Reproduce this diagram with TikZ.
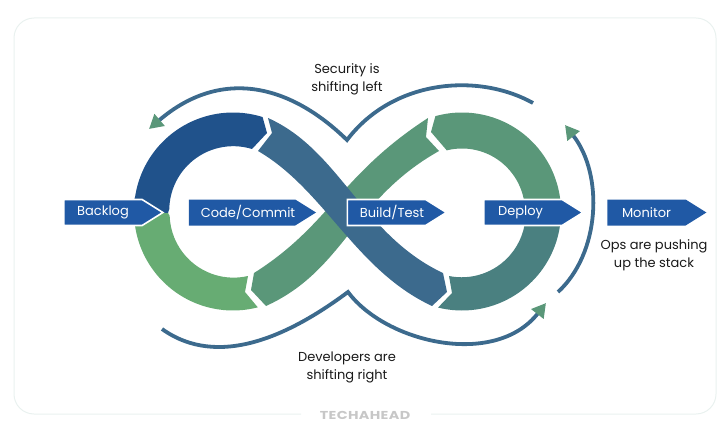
\documentclass[tikz,border=0pt]{standalone}
\usepackage{fontspec}
\setmainfont{Poppins}
\usetikzlibrary{shapes.symbols,arrows.meta}
\definecolor{boxblue}{HTML}{2059A5}
\definecolor{darkblue}{HTML}{20528B}
\definecolor{bandblue}{HTML}{3C6A8D}
\definecolor{bandgreen}{HTML}{5A9779}
\definecolor{lightgreen}{HTML}{67AC73}
\definecolor{teal}{HTML}{4A8080}
\definecolor{cardline}{HTML}{E9F1EF}
\begin{document}
\begin{tikzpicture}[x=1pt,y=-1pt,node distance=130pt,
  flag/.style={signal, signal to=east, signal pointer angle=64, fill=boxblue, text=white, inner sep=0pt, minimum height=26pt, minimum width=99pt, font=\fontsize{13}{15}\selectfont},
  rim/.style={draw=white, line width=1.6pt},
  flow/.style={draw=bandblue, line width=3.8pt, -{Triangle[color=bandgreen,length=14pt,width=15pt]}},
  note/.style={font=\fontsize{13}{18}\selectfont, align=center, text=black!90}]
\useasboundingbox (0,0) rectangle (728,433);
\draw[cardline, line width=1pt, rounded corners=20pt] (301,414) -- (14,414) -- (14,18) -- (716,18) -- (716,414) -- (431,414);
\node (logo)[text=black!22, font=\fontsize{11.5}{13}\selectfont\bfseries\addfontfeature{FakeStretch=1.25,LetterSpace=3}] at (365,415) {TECHAHEAD};
% left loop
\fill[darkblue] (233,211.5) ++(188.5:99) arc[start angle=188.5, end angle=287.4, radius=99] -- (267,133) -- (252,149) arc[start angle=287, end angle=181, radius=64] -- (168,213) -- (130,213) -- cycle;
\fill[lightgreen] (233,211.5) ++(172:99) arc[start angle=172, end angle=75.5, radius=99] -- (245,292) -- (248,276) arc[start angle=77, end angle=178, radius=64] -- (168,213) -- (130,213) -- cycle;
% right loop
\fill[bandgreen] (462,211.5) ++(254.4:99) arc[start angle=254.4, end angle=360, radius=99] -- (525,211.5) arc[start angle=360, end angle=256, radius=63] -- (431,132) -- cycle;
\fill[teal] (462,211.5) ++(0:99) arc[start angle=0, end angle=104, radius=99] -- (452,293) -- (449,276) arc[start angle=101.4, end angle=0, radius=64] -- cycle;
% crossing bands
\fill[bandgreen] (254,273) .. controls (330,225) and (340,175) .. (428,118) -- (426,137) -- (439,151) .. controls (352,200) and (345,270) .. (266,306) -- (251,290) -- cycle;
\fill[bandblue] (268,118) .. controls (340,150) and (362,235) .. (443,273) -- (447,292) -- (432,306) .. controls (355,270) and (325,190) .. (258,151) -- (272,133) -- cycle;
% steps
\node (backlog)[flag, rim, fill=boxblue] at (103,212.5) {Backlog};
\node (code)[flag, minimum width=121pt] [right of = backlog, node distance=139pt] {\kern12pt Code/Commit};
\node (build)[flag, rim, fill=boxblue] [right of = code, node distance=144.5pt] {\kern11pt Build/Test};
\node (deploy)[flag, rim, fill=boxblue] [right of = build, node distance=136.5pt] {Deploy\kern5pt};
\node (monitor)[flag] [right of = deploy, node distance=123.5pt] {Monitor};
% texts
\node (security)[note] at (347,79) {Security is\\shifting left};
\node (developers)[note] at (347,367) {Developers are\\shifting right};
\node (ops)[note] at (654,255) {Ops are pushing\\up the stack};
% arrows
\coordinate (a1) at (533,103);
\coordinate (a2) at (347,140);
\coordinate (a3) at (149,129);
\coordinate (b1) at (162,329);
\coordinate (b2) at (348,292);
\coordinate (b3) at (546,303);
\coordinate (c1) at (558,292);
\coordinate (c2) at (565,125);
\draw[flow] (a1) .. controls (477,72) and (392.5,80) .. (a2) .. controls (287.5,82) and (219,69) .. (a3);
\draw[flow] (b1) .. controls (218,369) and (289,336) .. (b2) .. controls (386,343) and (495,368) .. (b3);
\draw[flow] (c1) .. controls (600,253.5) and (604,175) .. (c2);
\end{tikzpicture}
\end{document}
